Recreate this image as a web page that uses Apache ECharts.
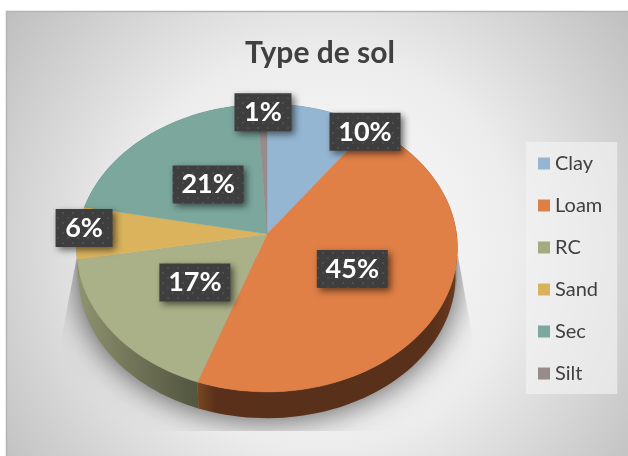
<!DOCTYPE html>
<html>
<head>
<meta charset="utf-8">
<style>html,body{margin:0;padding:0;background:#fff}#c{width:628px;height:456px}</style>
<script src="https://cdn.jsdelivr.net/npm/echarts@6/dist/echarts.min.js"></script>
</head>
<body>
<div id="c"></div>
<script>
const categories = ['Clay', 'Loam', 'RC', 'Sand', 'Sec', 'Silt'];
const values = [10, 45.4, 16.8, 5.9, 21, 0.9];
const colors = ['#94B6D2', '#DD8047', '#A5AB81', '#D8B25C', '#7BA79D', '#968C8C'];
const topColors = ['#94B6D2', '#E07F46', '#AAB087', '#DAB35C', '#7BA79D', '#968C8C'];
const wallStops = [
  [[0, '#5c7080'], [1, '#5c7080']],
  [[0, '#784723'], [0.07, '#5A301A'], [0.9, '#59301A'], [1, '#6a3a1e']],
  [[0, '#8f9470'], [0.5, '#6f7256'], [1, '#52553f']],
  [[0, '#877040'], [1, '#877040']],
  [[0, '#4d6862'], [1, '#4d6862']],
  [[0, '#5e5858'], [1, '#5e5858']]
];
const labelShift = [[59.5, -13], [-36, -13], [33.7, -19], [-50.3, -5], [24, 22], [-0.5, -28.2]];

const view = { cx: 267, cy: 234, rx: 189.6, ry: 142.6, k: 0.097, depth: 28, baseScale: 0.99 };
const total = values.reduce((a, b) => a + b, 0);
const starts = values.map((_, i) => values.slice(0, i).reduce((a, b) => a + b, 0));

function project(frac, r, dy) {
  const t = frac * 2 * Math.PI;
  const d = 1 + view.k * r * Math.cos(t);
  return [view.cx + view.rx * r * Math.sin(t) / d, view.cy - view.ry * r * Math.cos(t) / d + dy];
}
function arc(f0, f1, r, dy) {
  const n = Math.max(2, Math.ceil((f1 - f0) * 180));
  const pts = [];
  for (let i = 0; i <= n; i++) pts.push(project(f0 + (f1 - f0) * i / n, r, dy));
  return pts;
}
function makeTexture() {
  const c = document.createElement('canvas');
  c.width = 10; c.height = 10;
  const g = c.getContext('2d');
  g.fillStyle = '#3e3e3e'; g.fillRect(0, 0, 10, 10);
  g.fillStyle = '#4d4d4d';
  g.fillRect(2, 2, 2, 2); g.fillRect(7, 7, 2, 2);
  return c;
}
const texture = makeTexture();
const FONT = 'Lato, "Open Sans", sans-serif';

function renderSlice(i) {
  return function () {
    const f0 = starts[i] / total, f1 = (starts[i] + values[i]) / total;
    const topArc = arc(f0, f1, 1, 0);
    const baseArc = arc(f0, f1, view.baseScale, view.depth);
    const mid = (f0 + f1) / 2;
    const a = project(mid, 0.7, 0);
    const lx = a[0] + labelShift[i][0], ly = a[1] + labelShift[i][1];
    const text = Math.round(values[i]) + '%';
    const w = text.length > 2 ? 71 : 57, h = 38;
    return {
      type: 'group',
      children: [
        {
          type: 'polygon', z2: 1,
          shape: { points: topArc.concat(baseArc.slice().reverse()) },
          style: { fill: { type: 'linear', x: 0, y: 0, x2: 1, y2: 0,
            colorStops: wallStops[i].map(s => ({ offset: s[0], color: s[1] })) } }
        },
        {
          type: 'polygon', z2: 2,
          shape: { points: [[view.cx, view.cy]].concat(topArc) },
          style: { fill: topColors[i], stroke: topColors[i], lineWidth: 0.4 }
        },
        {
          type: 'rect', z2: 3,
          shape: { x: lx - w / 2, y: ly - h / 2, width: w, height: h },
          style: { fill: { image: texture, repeat: 'repeat' },
            shadowBlur: 7, shadowOffsetX: 3, shadowOffsetY: 3, shadowColor: 'rgba(0,0,0,0.55)' }
        },
        {
          type: 'text', z2: 4,
          style: { text, x: lx, y: ly, align: 'center', verticalAlign: 'middle',
            fill: '#fff', font: 'bold 27px ' + FONT }
        }
      ]
    };
  };
}
function renderShadow() {
  const outline = arc(0, 1, 1, view.depth - 6);
  return {
    type: 'polygon', z2: 0,
    shape: { points: outline },
    clipPath: { type: 'polygon', shape: { points: [[77, 256], [62, 335], [62, 431], [472, 431], [472, 335], [458, 256]] } },
    style: { fill: '#999', shadowBlur: 30, shadowOffsetY: 7, shadowColor: 'rgba(0,0,0,0.6)' }
  };
}

const series = [{ type: 'custom', name: 'shadow', coordinateSystem: 'none', silent: true, data: [[1]], renderItem: renderShadow }]
  .concat(categories.map((name, i) => ({
    type: 'custom', name, coordinateSystem: 'none', silent: true,
    itemStyle: { color: colors[i] }, data: [[values[i]]], renderItem: renderSlice(i)
  })));

const chart = echarts.init(document.getElementById('c'), null, { renderer: 'canvas' });
chart.setOption({
  animation: false,
  color: colors,
  graphic: [{
    type: 'rect', z: -10, silent: true,
    shape: { x: 6.5, y: 11.5, width: 630, height: 450 },
    style: {
      stroke: '#b4b4b4', lineWidth: 1.5,
      fill: { type: 'radial', x: 320, y: 250, r: 400, global: true,
        colorStops: [{ offset: 0, color: '#ffffff' }, { offset: 0.5, color: '#ececec' }, { offset: 1, color: '#bdbdbd' }] }
    }
  }],
  title: {
    text: 'Type de sol', left: 315, top: 33, textAlign: 'center',
    textStyle: { fontFamily: FONT, fontWeight: 'bold', fontSize: 30, color: '#404040' }
  },
  legend: {
    data: categories, orient: 'vertical', left: 526, top: 142,
    padding: [10, 15, 9, 12], itemWidth: 12, itemHeight: 12, itemGap: 19, icon: 'rect',
    backgroundColor: 'rgba(242,242,242,0.65)',
    selectedMode: false,
    textStyle: { fontFamily: FONT, fontSize: 20, color: '#404040', lineHeight: 23 }
  },
  series
});
</script>
</body>
</html>
